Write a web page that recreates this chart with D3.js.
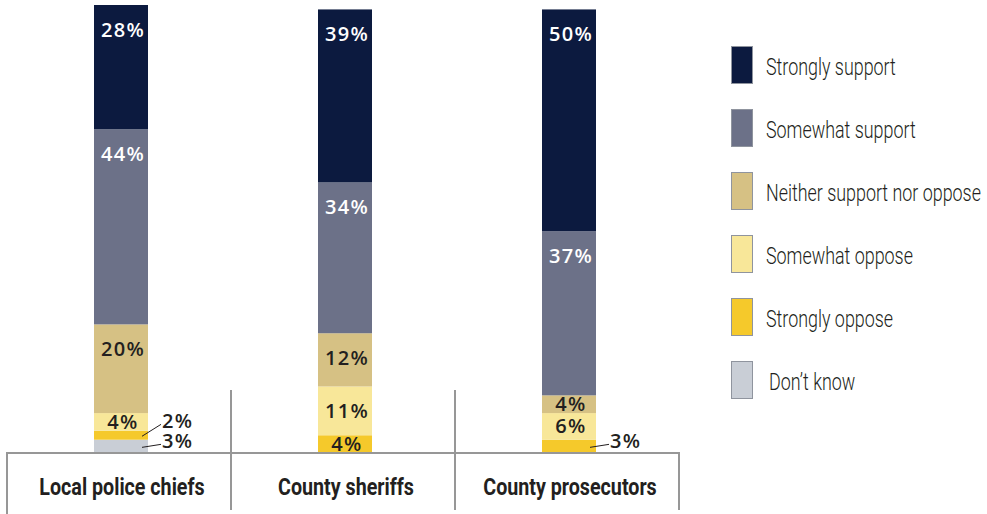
<!DOCTYPE html>
<html>
<head>
<meta charset="utf-8">
<script src="https://cdn.jsdelivr.net/npm/d3@7"></script>
<style>
  html, body { margin: 0; padding: 0; background: #fff; }
  svg { display: block; }
</style>
</head>
<body>
<svg id="chart" width="987" height="514"></svg>
<script>
// Survey groups and response categories
const categories = ["Local police chiefs", "County sheriffs", "County prosecutors"];
const responses = ["Strongly support", "Somewhat support", "Neither support nor oppose",
                   "Somewhat oppose", "Strongly oppose", "Don\u2019t know"];

// Percent of each group giving each response
const stronglySupport = [28, 39, 50];
const somewhatSupport = [44, 34, 37];
const neitherSupportNorOppose = [20, 12, 4];
const somewhatOppose = [4, 11, 6];
const stronglyOppose = [2, 4, 3];
const dontKnow = [3, 0, 0];

const seriesValues = [stronglySupport, somewhatSupport, neitherSupportNorOppose,
                      somewhatOppose, stronglyOppose, dontKnow];

const colors = ["#0c1a3f", "#6c7188", "#d6c184", "#f8e799", "#f5c92b", "#c9ced6"];
const lightText = [true, true, false, false, false, false];

// Rows for the stack generator
const rows = categories.map((c, i) => {
  const r = { category: c };
  responses.forEach((k, j) => { r[k] = seriesValues[j][i]; });
  return r;
});

const svg = d3.select("#chart");

// Bars stack from the bottom, so "Don't know" is first
const stack = d3.stack().keys(responses.slice().reverse());
const layers = stack(rows);

const totals = rows.map(r => d3.sum(responses, k => r[k]));

const x = d3.scaleBand().domain(categories).range([7, 679]).padding(0);
const y = d3.scaleLinear().domain([0, d3.max(totals)]).range([453, 5]);

const barWidth = 54;
const barX = c => x(c) + x.bandwidth() / 2 - barWidth / 2 + 2;
const colorOf = d3.scaleOrdinal().domain(responses).range(colors);

// Condensed look: squeeze each text node horizontally
function condense(sel, factor) {
  sel.each(function () {
    const w = this.getComputedTextLength();
    d3.select(this).attr("textLength", w * factor).attr("lengthAdjust", "spacingAndGlyphs");
  });
}

// Segments
const gBars = svg.append("g");
layers.forEach(layer => {
  gBars.selectAll(null)
    .data(layer.filter(d => d[1] > d[0]))
    .join("rect")
    .attr("x", d => barX(d.data.category))
    .attr("y", d => y(d[1]))
    .attr("width", barWidth)
    .attr("height", d => y(d[0]) - y(d[1]))
    .attr("fill", colorOf(layer.key));
});

// Value labels
const labelFont = "'Open Sans', 'Noto Sans', sans-serif";
const gLabels = svg.append("g");
const capH = 14;
function valueText(sel) {
  return sel.attr("font-family", labelFont)
    .attr("font-weight", 600)
    .attr("font-size", 20)
    .attr("letter-spacing", 1.3);
}
categories.forEach((cat, ci) => {
  const cx = barX(cat) + barWidth / 2;
  const right = barX(cat) + barWidth;
  let prevOutside = Infinity;
  // walk bottom to top so outside labels can be stacked upward
  layers.forEach(layer => {
    const d = layer[ci];
    const v = d[1] - d[0];
    if (v <= 0) return;
    const top = y(d[1]), bottom = y(d[0]);
    const h = bottom - top;
    const ri = responses.indexOf(layer.key);
    if (v >= 4) {
      const off = Math.min(18, Math.max(1, (h - capH) / 2));
      gLabels.append("text")
        .attr("x", cx + 2)
        .attr("y", top + off + capH)
        .attr("text-anchor", "middle")
        .call(valueText)
        .attr("fill", lightText[ri] ? "#ffffff" : "#231f20")
        .text(v + "%");
    } else {
      const mid = (top + bottom) / 2;
      const base = Math.min(mid + 2, prevOutside - 20);
      prevOutside = base;
      const lx = right + 14;
      gLabels.append("line")
        .attr("x1", right - 6).attr("y1", mid + 1)
        .attr("x2", lx - 1).attr("y2", base - 4)
        .attr("stroke", "#231f20").attr("stroke-width", 1);
      gLabels.append("text")
        .attr("x", lx)
        .attr("y", base)
        .call(valueText)
        .attr("fill", "#231f20")
        .text(v + "%");
    }
  });
});

// Category axis: baseline plus dividers between groups
const gAxis = svg.append("g").attr("stroke", "#979797").attr("stroke-width", 2).attr("fill", "none");
const x0 = x.range()[0], x1 = x.range()[1];
gAxis.append("line").attr("x1", x0).attr("x2", x1).attr("y1", 453).attr("y2", 453);
gAxis.append("line").attr("x1", x0).attr("x2", x0).attr("y1", 452).attr("y2", 514);
gAxis.append("line").attr("x1", x1).attr("x2", x1).attr("y1", 452).attr("y2", 510);
categories.slice(1).forEach(c => {
  gAxis.append("line").attr("x1", x(c)).attr("x2", x(c)).attr("y1", 390).attr("y2", 510);
});

svg.append("g").selectAll("text")
  .data(categories)
  .join("text")
  .attr("x", c => x(c) + x.bandwidth() / 2 + 3)
  .attr("y", 495)
  .attr("text-anchor", "middle")
  .attr("font-family", "Roboto, 'Liberation Sans', sans-serif")
  .attr("font-weight", 700)
  .attr("font-size", 24)
  .attr("fill", "#231f20")
  .text(c => c)
  .call(condense, 0.82);

// Legend
const legend = svg.append("g").attr("transform", "translate(731,46)");
const rowStep = 63;
const items = legend.selectAll("g")
  .data(responses)
  .join("g")
  .attr("transform", (d, i) => `translate(0,${i * rowStep})`);
items.append("rect")
  .attr("x", 0.5).attr("y", 0.5)
  .attr("width", 21).attr("height", 37)
  .attr("fill", d => colorOf(d))
  .attr("stroke", "#8f949e")
  .attr("stroke-width", 1);
items.append("text")
  .attr("x", (d, i) => i === responses.length - 1 ? 38 : 35)
  .attr("y", 29)
  .attr("font-family", "Roboto, 'Liberation Sans', sans-serif")
  .attr("font-weight", 300)
  .attr("font-size", 24)
  .attr("fill", "#231f20")
  .text(d => d)
  .call(condense, 0.745);
</script>
</body>
</html>
